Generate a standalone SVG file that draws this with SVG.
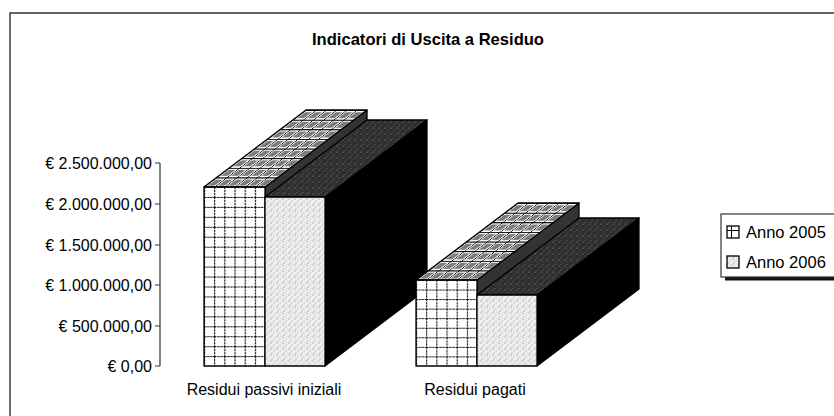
<svg xmlns="http://www.w3.org/2000/svg" width="834" height="416" viewBox="0 0 834 416">
<style>
text{font-family:"Liberation Sans",Arial,sans-serif;fill:#000}
.ax{font-size:16px;text-anchor:end}
.cat{font-size:16px;text-anchor:middle}
.leg{font-size:16.5px}
.title{font-size:17px;font-weight:bold;text-anchor:middle}
.edge{stroke:#000;stroke-width:1.3;stroke-linejoin:round}
.frame{stroke:#333;stroke-width:1.4;fill:none}
</style>
<defs>
<pattern id="grid1" x="204" y="187" width="10.17" height="9.95" patternUnits="userSpaceOnUse">
<rect width="10.17" height="9.95" fill="#fff"/>
<path d="M0 0.5H10.17M0.5 0V9.95" stroke="#000" stroke-width="1.1" stroke-dasharray="2.2 0.8"/>
</pattern>
<pattern id="grid2" x="416" y="280" width="10.17" height="9.55" patternUnits="userSpaceOnUse">
<rect width="10.17" height="9.55" fill="#fff"/>
<path d="M0 0.5H10.17M0.5 0V9.55" stroke="#000" stroke-width="1.1" stroke-dasharray="2.2 0.8"/>
</pattern>
<pattern id="top1" width="10.17" height="9.625" patternUnits="userSpaceOnUse" patternTransform="matrix(1 0 -1.325 1 204 187)">
<rect width="10.17" height="9.625" fill="#fff"/>
<rect x="2.2" y="2.2" width="6.5" height="6" fill="#7a7a7a"/>
<path d="M0 0.5H10.17M0.5 0V9.625" stroke="#000" stroke-width="1"/>
</pattern>
<pattern id="top2" width="10.17" height="9.625" patternUnits="userSpaceOnUse" patternTransform="matrix(1 0 -1.325 1 416 280)">
<rect width="10.17" height="9.625" fill="#fff"/>
<rect x="2.2" y="2.2" width="6.5" height="6" fill="#7a7a7a"/>
<path d="M0 0.5H10.17M0.5 0V9.625" stroke="#000" stroke-width="1"/>
</pattern>
<pattern id="light" width="6" height="6" patternUnits="userSpaceOnUse">
<rect width="6" height="6" fill="#eeeeee"/>
<circle cx="1" cy="1" r="0.6" fill="#777"/>
<circle cx="4" cy="3" r="0.6" fill="#999"/>
<circle cx="2" cy="5" r="0.5" fill="#666"/>
<circle cx="5" cy="0.5" r="0.4" fill="#aaa"/>
</pattern>
<pattern id="dark" width="6" height="6" patternUnits="userSpaceOnUse">
<rect width="6" height="6" fill="#2e2e2e"/>
<circle cx="1" cy="2" r="0.6" fill="#999"/>
<circle cx="4" cy="4" r="0.5" fill="#777"/>
<circle cx="3" cy="0.7" r="0.4" fill="#bbb"/>
</pattern>
</defs>

<g id="frame">
<path class="frame" d="M10 416V13H834"/>
</g>

<g id="title">
<text class="title" x="428" y="45" textLength="232" lengthAdjust="spacingAndGlyphs">Indicatori di Uscita a Residuo</text>
</g>

<g id="axis">
<path d="M160 163V366M155 163H160M155 204H160M155 245H160M155 285H160M155 326H160M155 366H160" stroke="#333" stroke-width="1.2" fill="none"/>
<text class="ax" x="152" y="169">€ 2.500.000,00</text>
<text class="ax" x="152" y="210">€ 2.000.000,00</text>
<text class="ax" x="152" y="251">€ 1.500.000,00</text>
<text class="ax" x="152" y="291">€ 1.000.000,00</text>
<text class="ax" x="152" y="332">€ 500.000,00</text>
<text class="ax" x="152" y="372">€ 0,00</text>
</g>

<g id="group-residui-passivi">
<polygon class="edge" points="265,187 367,110 367,289 265,366" fill="#333"/>
<polygon class="edge" points="204,187 265,187 367,110 306,110" fill="url(#top1)"/>
<rect class="edge" x="204" y="187" width="61" height="179" fill="url(#grid1)"/>
<polygon class="edge" points="325,197 427,120 427,289 325,366" fill="#000"/>
<polygon class="edge" points="265,197 325,197 427,120 367,120" fill="url(#dark)"/>
<rect class="edge" x="265" y="197" width="60" height="169" fill="url(#light)"/>
</g>

<g id="group-residui-pagati">
<polygon class="edge" points="477,280 579,203 579,289 477,366" fill="#333"/>
<polygon class="edge" points="416,280 477,280 579,203 518,203" fill="url(#top2)"/>
<rect class="edge" x="416" y="280" width="61" height="86" fill="url(#grid2)"/>
<polygon class="edge" points="537,295 639,218 639,289 537,366" fill="#000"/>
<polygon class="edge" points="477,295 537,295 639,218 579,218" fill="url(#dark)"/>
<rect class="edge" x="477" y="295" width="60" height="71" fill="url(#light)"/>
</g>

<g id="categories">
<text class="cat" x="264" y="395">Residui passivi iniziali</text>
<text class="cat" x="475" y="395">Residui pagati</text>
</g>

<g id="legend">
<rect x="725" y="277" width="115" height="3.5" fill="#111"/>
<rect x="721" y="214" width="120" height="63" fill="#fff" stroke="#333" stroke-width="1.2"/>
<rect x="727" y="226" width="12" height="12" fill="#fff" stroke="#000" stroke-width="1.3"/>
<path d="M727 230.5H739M731.5 226V238" stroke="#000" stroke-width="1"/>
<text class="leg" x="746" y="238">Anno 2005</text>
<rect x="727" y="256" width="12" height="12" fill="url(#light)" stroke="#000" stroke-width="1.3"/>
<text class="leg" x="746" y="268">Anno 2006</text>
</g>
</svg>
